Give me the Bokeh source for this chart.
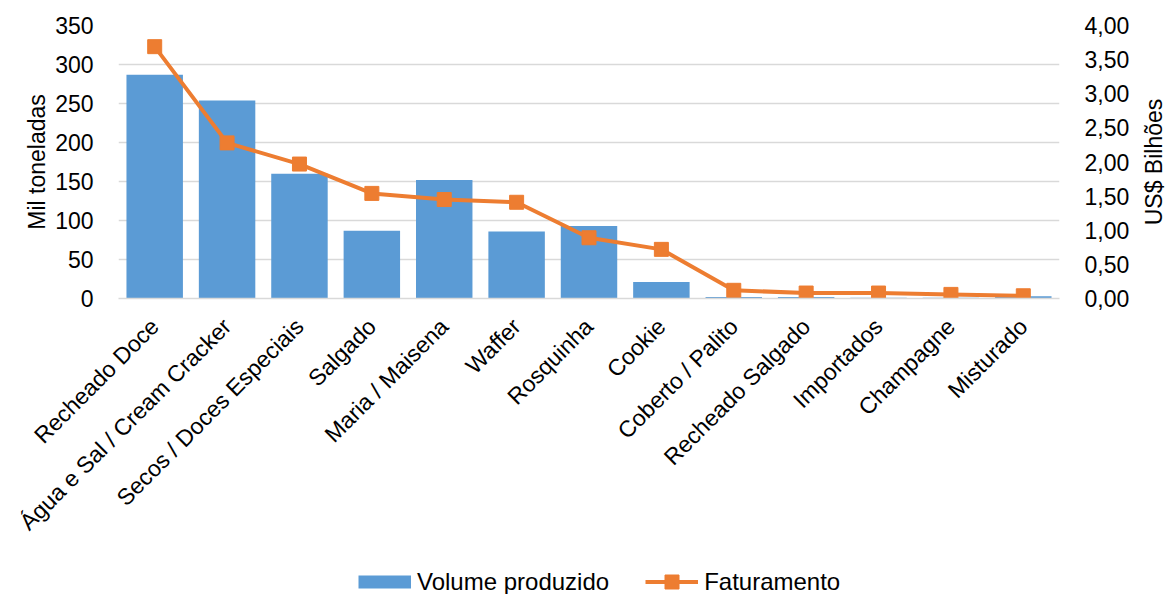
import math
from bokeh.plotting import figure
from bokeh.layouts import column, row
from bokeh.core.properties import value
from bokeh.models import (Range1d, LinearAxis, SingleIntervalTicker, CustomJSTickFormatter,
                          Legend, LegendItem, FactorRange, ColumnDataSource)
from bokeh.embed import file_html
from bokeh.resources import INLINE

categories = ["Recheado Doce", "Água e Sal / Cream Cracker", "Secos / Doces Especiais",
              "Salgado", "Maria / Maisena", "Waffer", "Rosquinha", "Cookie",
              "Coberto / Palito", "Recheado Salgado", "Importados", "Champagne", "Misturado"]
volume = [287, 254, 160, 87, 152, 86, 93, 21, 2, 2, 1, 1, 3]          # mil toneladas
faturamento = [3.69, 2.28, 1.97, 1.54, 1.45, 1.41, 0.89, 0.72,
               0.12, 0.08, 0.08, 0.06, 0.04]                             # US$ bilhões
left_title = "Mil toneladas"
right_title = "US$ Bilhões"

BLUE = "#5B9BD5"
ORANGE = "#ED7D31"
GRID = "#D9D9D9"
FONT = "Liberation Sans"
FS = "23px"
TITLE_FS = "23px"
TOP, BOTTOM = 25, 256

src = ColumnDataSource(dict(cat=categories, vol=volume, fat=faturamento))

p = figure(width=1132, height=554, x_range=FactorRange(factors=categories),
           y_range=Range1d(0, 350), output_backend="svg", toolbar_location=None,
           min_border_left=118, min_border_right=69, min_border_top=TOP, min_border_bottom=BOTTOM)
p.outline_line_color = None
p.extra_y_ranges = {"rev": Range1d(0, 4)}

p.vbar(x="cat", top="vol", width=0.78, source=src, fill_color=BLUE, line_color=None)
p.line(x="cat", y="fat", source=src, y_range_name="rev", line_color=ORANGE, line_width=4)
p.scatter(x="cat", y="fat", source=src, y_range_name="rev", marker="square",
          size=14, fill_color=ORANGE, line_color=ORANGE)

# left axis
yl = p.yaxis[0]
yl.ticker = SingleIntervalTicker(interval=50)
yl.axis_label = left_title
yl.axis_label_standoff = 2
yl.axis_label_text_font = FONT
yl.axis_label_text_font_size = TITLE_FS
yl.axis_label_text_font_style = "normal"
yl.axis_label_text_color = "#000000"

# right axis (its title sits in the narrow strip beside the chart)
yr = LinearAxis(y_range_name="rev", ticker=SingleIntervalTicker(interval=0.5),
                formatter=CustomJSTickFormatter(code="return tick.toFixed(2).replace('.', ',');"))
p.add_layout(yr, "right")

# bottom axis
xa = p.xaxis[0]
xa.axis_line_color = GRID
xa.axis_line_width = 1.5
xa.major_label_orientation = math.pi / 4
xa.major_label_standoff = 24

for ax in (yl, yr):
    ax.axis_line_color = None
    ax.major_label_standoff = 21
for ax in (yl, yr, xa):
    ax.major_tick_line_color = None
    ax.minor_tick_line_color = None
    ax.major_tick_out = 0
    ax.major_label_text_font = FONT
    ax.major_label_text_font_size = FS
    ax.major_label_text_color = "#000000"

p.xgrid.grid_line_color = None
p.ygrid.grid_line_color = GRID
p.ygrid.grid_line_width = 1.5

# narrow strip on the right holding the bottom-to-top revenue axis title
side = figure(width=33, height=554, x_range=Range1d(0, 33), y_range=Range1d(0, 4),
              output_backend="svg", toolbar_location=None, x_axis_type=None, y_axis_type=None,
              min_border_left=0, min_border_right=0, min_border_top=TOP, min_border_bottom=BOTTOM)
side.outline_line_color = None
side.grid.grid_line_color = None
side.text(x=[21], y=[2.0], text=[right_title], angle=math.pi / 2, text_align="center",
          text_baseline="middle", text_font=value(FONT), text_font_size=TITLE_FS,
          text_color="#000000")

# legend strip under the chart
lg = figure(width=1165, height=40, x_range=Range1d(0, 1), y_range=Range1d(0, 1),
            output_backend="svg", toolbar_location=None, x_axis_type=None, y_axis_type=None,
            min_border=0)
lg.outline_line_color = None
lg.grid.grid_line_color = None
nan = float("nan")
key_bar = lg.line(x=[0], y=[nan], line_color=BLUE, line_width=13, line_cap="butt")
key_line = lg.line(x=[0], y=[nan], line_color=ORANGE, line_width=4)
key_mark = lg.scatter(x=[0], y=[nan], marker="square", fill_color=ORANGE, line_color=ORANGE)
legend = Legend(items=[LegendItem(label="Volume produzido", renderers=[key_bar]),
                       LegendItem(label="Faturamento", renderers=[key_line, key_mark])],
                orientation="horizontal", location=(358, -5),
                glyph_width=53, glyph_height=35, label_standoff=6, spacing=36,
                label_text_font=FONT, label_text_font_size="24px", label_text_color="#000000",
                border_line_color=None, background_fill_alpha=0, padding=0, margin=0)
lg.add_layout(legend, "center")

layout = column(row(p, side, spacing=0), lg, spacing=0)
open("out.html", "w").write(file_html(layout, INLINE))
